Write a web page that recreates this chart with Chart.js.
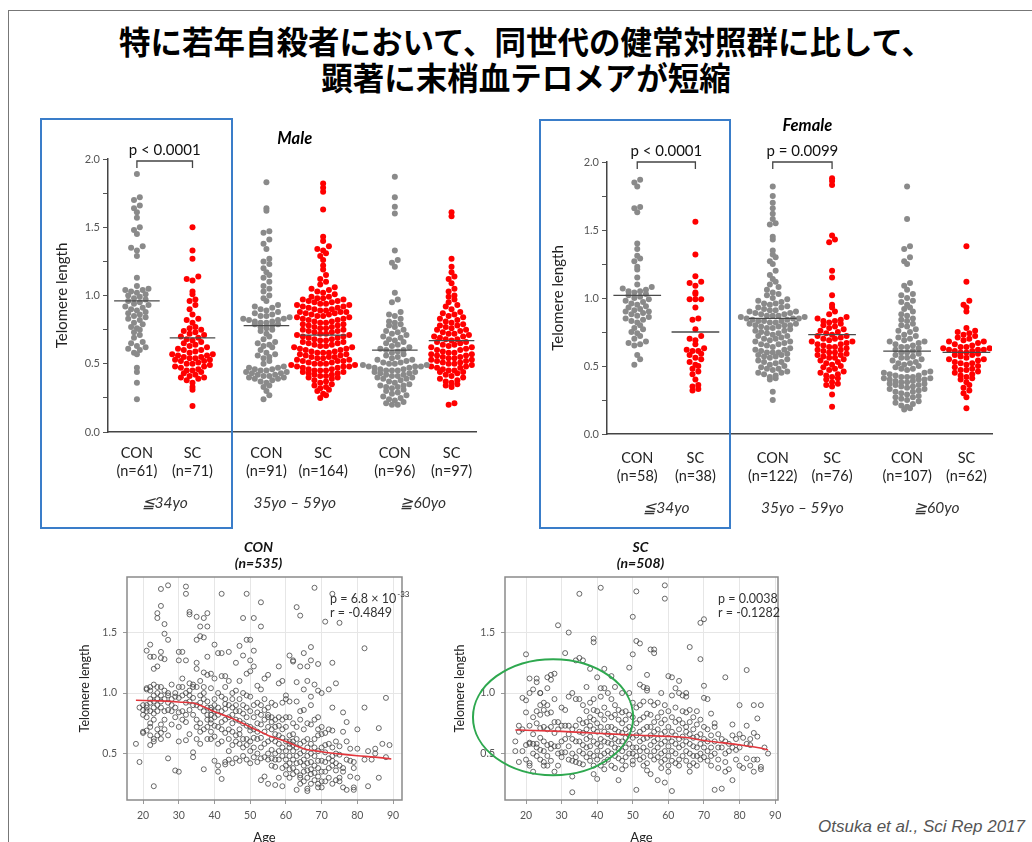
<!DOCTYPE html>
<html>
<head>
<meta charset="utf-8">
<title>Telomere length</title>
<script src="https://cdn.jsdelivr.net/npm/chart.js@4.4.1/dist/chart.umd.min.js"></script>
<style>
  html, body { margin: 0; padding: 0; background: #fff; }
  body { width: 1032px; height: 842px; overflow: hidden; position: relative; font-family: Lato, "Noto Sans", sans-serif; }
  .abs { position: absolute; }
  #frame { left: 8px; top: 10px; width: 1030px; height: 840px; border-top: 1px solid #777; border-left: 1px solid #777; }
  #title { left: 0; top: 22px; width: 1052px; text-align: center; font-family: "Noto Sans CJK JP", sans-serif; font-weight: 700; font-size: 31.5px; line-height: 36px; color: #000; }
  .box { border: 2px solid #3a7dc9; }
  #cite { right: 7px; top: 817px; font-family: "Liberation Sans", Arial, sans-serif; font-style: italic; font-size: 17px; color: #555; }
</style>
</head>
<body>
<div id="frame" class="abs"></div>
<div id="title" class="abs">特に若年自殺者において、同世代の健常対照群に比して、<br>顕著に末梢血テロメアが短縮</div>

<canvas id="male" class="abs" width="470" height="420" style="left:30px;top:110px"></canvas>
<canvas id="female" class="abs" width="480" height="420" style="left:530px;top:110px"></canvas>
<canvas id="conAge" class="abs" width="360" height="310" style="left:60px;top:535px"></canvas>
<canvas id="scAge" class="abs" width="360" height="310" style="left:430px;top:535px"></canvas>

<div class="abs box" style="left:40px;top:118px;width:189px;height:407px"></div>
<div class="abs box" style="left:539px;top:119px;width:188px;height:406px"></div>

<div id="cite" class="abs">Otsuka et al., Sci Rep 2017</div>

<script>
// ---- swarm plots: telomere length by sex / age group ----
const groupNames = ['CON', 'SC'];
const ageGroups = ['≦34yo', '35yo – 59yo', '≧60yo'];
const maleN = [61, 71, 91, 164, 96, 97];
const femaleN = [58, 38, 122, 76, 107, 62];
const maleMeans = [0.96, 0.69, 0.78, 0.71, 0.60, 0.67];
const femaleMeans = [1.02, 0.75, 0.85, 0.73, 0.61, 0.60];
const maleP = [['p < 0.0001', 0, 1]];
const femaleP = [['p < 0.0001', 0, 1], ['p = 0.0099', 2, 3]];

const maleCon34 = [1.89,1.72,1.70,1.66,1.64,1.61,1.57,1.50,1.48,1.45,1.36,1.35,1.33,1.29,1.13,1.07,1.05,1.04,1.04,1.03,1.02,1.01,1.00,0.99,0.98,0.97,0.96,0.95,0.94,0.93,0.92,0.91,0.90,0.89,0.88,0.87,0.86,0.85,0.84,0.83,0.82,0.80,0.79,0.77,0.76,0.75,0.73,0.71,0.69,0.66,0.65,0.63,0.62,0.61,0.60,0.58,0.57,0.47,0.44,0.36,0.24];
const maleSc34 = [1.50,1.33,1.27,1.14,1.12,1.11,1.03,1.01,0.97,0.96,0.93,0.90,0.86,0.83,0.82,0.80,0.77,0.76,0.75,0.74,0.73,0.72,0.71,0.70,0.69,0.68,0.67,0.66,0.65,0.64,0.63,0.62,0.61,0.60,0.60,0.59,0.58,0.57,0.57,0.56,0.56,0.55,0.55,0.54,0.54,0.53,0.53,0.52,0.52,0.51,0.50,0.50,0.49,0.48,0.48,0.47,0.46,0.45,0.45,0.44,0.43,0.42,0.41,0.40,0.40,0.39,0.38,0.36,0.33,0.31,0.19];
const maleCon3559 = [1.83,1.64,1.62,1.47,1.46,1.41,1.38,1.34,1.27,1.25,1.23,1.20,1.17,1.15,1.13,1.10,1.07,1.05,1.03,1.00,0.98,0.96,0.93,0.92,0.91,0.90,0.89,0.88,0.87,0.86,0.85,0.85,0.84,0.83,0.83,0.82,0.82,0.81,0.81,0.80,0.80,0.79,0.79,0.78,0.77,0.76,0.75,0.74,0.72,0.70,0.68,0.66,0.65,0.64,0.63,0.62,0.60,0.58,0.57,0.56,0.55,0.54,0.52,0.50,0.48,0.47,0.47,0.46,0.46,0.45,0.45,0.44,0.44,0.43,0.43,0.42,0.42,0.41,0.41,0.40,0.40,0.39,0.39,0.38,0.37,0.36,0.34,0.33,0.30,0.27,0.24];
const maleSc3559 = [1.82,1.79,1.76,1.63,1.43,1.40,1.36,1.34,1.33,1.31,1.29,1.26,1.22,1.19,1.15,1.12,1.10,1.08,1.06,1.05,1.04,1.03,1.02,1.01,
  0.99,0.99,0.98,0.98,0.97,0.97,0.96,0.96,0.95,0.95,0.94,0.94,0.93,0.93,0.92,0.92,0.91,0.91,0.90,0.90,0.89,0.89,0.88,0.88,0.88,0.87,0.87,
  0.86,0.86,0.85,0.85,0.84,0.84,0.83,0.83,0.82,0.82,0.81,0.81,0.80,0.80,0.79,0.79,0.78,0.78,0.77,0.77,0.76,0.76,0.75,0.75,0.74,0.74,
  0.73,0.73,0.72,0.72,0.71,0.71,0.70,0.70,0.69,0.69,0.68,0.68,0.67,0.67,0.66,0.66,0.65,0.65,0.64,0.64,0.63,0.63,0.62,0.62,0.61,0.61,
  0.60,0.60,0.59,0.59,0.58,0.58,0.58,0.57,0.57,0.56,0.56,0.55,0.55,0.55,0.54,0.54,0.53,0.53,0.52,0.52,0.52,0.51,0.51,0.50,0.50,0.50,
  0.49,0.49,0.48,0.48,0.48,0.47,0.47,0.46,0.46,0.45,0.45,0.45,0.44,0.44,0.43,0.43,0.42,0.42,0.41,0.41,0.40,0.40,
  0.39,0.38,0.37,0.36,0.35,0.34,0.33,0.32,0.31,0.30,0.28,0.27,0.25];
const maleCon60 = [1.87,1.72,1.65,1.60,1.33,1.26,1.24,1.21,1.02,0.97,0.95,0.88,0.86,0.85,0.83,0.81,0.80,0.79,0.78,0.77,0.75,0.74,0.73,0.72,0.71,0.70,0.69,0.68,0.67,0.66,0.65,0.64,0.63,0.62,0.61,0.60,0.60,0.59,0.58,0.57,0.56,0.55,0.54,0.53,0.53,0.52,0.51,0.51,0.50,0.50,0.49,0.49,0.48,0.48,0.48,0.47,0.47,0.46,0.46,0.45,0.45,0.45,0.44,0.44,0.43,0.43,0.42,0.42,0.41,0.41,0.40,0.40,0.39,0.39,0.38,0.37,0.36,0.35,0.34,0.34,0.33,0.33,0.32,0.31,0.30,0.29,0.28,0.27,0.26,0.25,0.24,0.23,0.22,0.21,0.20,0.20];
const maleSc60 = [1.61,1.58,1.27,1.21,1.17,1.14,1.12,1.09,1.05,1.03,1.00,0.99,0.97,0.95,0.93,0.92,0.90,0.88,0.87,0.86,0.85,0.84,0.83,0.82,0.81,0.80,0.79,0.78,0.78,0.77,0.76,0.75,0.75,0.74,0.73,0.72,0.72,0.71,0.70,0.70,0.69,0.68,0.68,0.67,0.66,0.66,0.65,0.64,0.64,0.63,0.62,0.62,0.61,0.60,0.60,0.59,0.58,0.58,0.57,0.57,0.56,0.56,0.55,0.55,0.54,0.54,0.53,0.53,0.52,0.52,0.51,0.51,0.50,0.50,0.49,0.48,0.48,0.47,0.47,0.46,0.45,0.45,0.44,0.44,0.43,0.42,0.41,0.40,0.39,0.38,0.37,0.36,0.35,0.34,0.33,0.21,0.20];

const femaleCon34 = [1.87,1.85,1.82,1.67,1.66,1.63,1.40,1.36,1.31,1.29,1.27,1.23,1.21,1.15,1.10,1.08,1.07,1.06,1.05,1.05,1.04,1.03,1.02,1.01,1.00,0.99,0.98,0.97,0.96,0.95,0.94,0.93,0.92,0.91,0.90,0.90,0.89,0.88,0.87,0.86,0.85,0.84,0.83,0.82,0.80,0.78,0.77,0.75,0.74,0.72,0.70,0.68,0.67,0.66,0.65,0.58,0.55,0.51];
const femaleSc34 = [1.56,1.32,1.16,1.12,1.11,1.09,1.04,1.03,0.99,0.99,0.99,0.93,0.85,0.84,0.77,0.72,0.70,0.69,0.66,0.63,0.62,0.61,0.61,0.59,0.58,0.56,0.55,0.53,0.51,0.50,0.48,0.46,0.44,0.40,0.36,0.35,0.33,0.32];
const femaleCon3559 = [1.82,1.75,1.70,1.66,1.62,1.58,1.55,1.54,1.45,1.43,1.35,1.32,1.30,1.27,1.25,1.20,1.17,1.14,1.12,1.10,1.08,1.06,1.04,1.03,1.02,1.00,0.99,0.98,0.97,0.96,0.96,0.95,0.94,0.93,0.93,0.92,0.91,0.91,0.90,0.90,0.89,0.89,0.88,0.88,0.87,0.87,0.87,0.86,0.86,0.85,0.85,0.85,0.84,0.84,0.83,0.83,0.83,0.82,0.82,0.81,0.81,0.80,0.80,0.80,0.79,0.79,0.78,0.78,0.77,0.76,0.76,0.75,0.74,0.74,0.73,0.72,0.72,0.71,0.70,0.70,0.69,0.68,0.68,0.67,0.66,0.66,0.65,0.64,0.63,0.62,0.62,0.61,0.60,0.60,0.60,0.59,0.58,0.58,0.57,0.57,0.56,0.55,0.54,0.53,0.53,0.52,0.51,0.50,0.49,0.48,0.48,0.47,0.46,0.45,0.45,0.44,0.43,0.42,0.41,0.40,0.31,0.25];
const femaleSc3559 = [1.88,1.86,1.83,1.46,1.43,1.41,1.20,1.15,1.02,0.95,0.93,0.90,0.88,0.86,0.85,0.84,0.83,0.83,0.82,0.81,0.80,0.79,0.78,0.77,0.76,0.75,0.74,0.73,0.72,0.72,0.71,0.70,0.70,0.69,0.68,0.68,0.67,0.66,0.66,0.65,0.64,0.64,0.63,0.62,0.62,0.61,0.60,0.60,0.59,0.58,0.58,0.57,0.56,0.56,0.55,0.54,0.53,0.52,0.51,0.50,0.49,0.48,0.47,0.46,0.45,0.44,0.43,0.42,0.41,0.40,0.38,0.37,0.36,0.35,0.29,0.20];
const femaleCon60 = [1.82,1.58,1.38,1.36,1.30,1.27,1.25,1.11,1.09,1.06,1.03,1.02,1.00,0.98,0.97,0.95,0.93,0.92,0.90,0.88,0.87,0.85,0.84,0.83,0.81,0.80,0.79,0.77,0.76,0.75,0.73,0.72,0.71,0.70,0.69,0.68,0.68,0.67,0.66,0.65,0.64,0.64,0.63,0.62,0.61,0.60,0.60,0.59,0.58,0.57,0.56,0.56,0.55,0.54,0.53,0.52,0.52,0.51,0.50,0.49,0.48,0.48,0.47,0.46,0.45,0.45,0.44,0.43,0.43,0.42,0.42,0.42,0.41,0.41,0.40,0.40,0.40,0.39,0.39,0.38,0.38,0.37,0.37,0.36,0.36,0.35,0.34,0.33,0.33,0.32,0.31,0.30,0.29,0.28,0.27,0.27,0.26,0.25,0.24,0.23,0.22,0.21,0.20,0.19,0.18,0.35,0.31];
const femaleSc60 = [1.38,1.12,0.98,0.95,0.93,0.90,0.78,0.76,0.75,0.74,0.73,0.72,0.71,0.70,0.69,0.68,0.68,0.67,0.66,0.65,0.64,0.64,0.63,0.63,0.62,0.62,0.62,0.61,0.61,0.60,0.60,0.59,0.58,0.58,0.57,0.56,0.55,0.55,0.54,0.53,0.52,0.52,0.51,0.50,0.49,0.48,0.47,0.47,0.46,0.45,0.44,0.43,0.42,0.41,0.40,0.38,0.36,0.34,0.32,0.30,0.27,0.19];

// ---- age scatter plots: [age, telomere lengths at that age] ----
const conRows = [
  [18,[0.58]],[19,[0.43,0.88]],[20,[0.68,0.82,0.86,0.90,0.67]],
  [21,[1.03,1.04,0.90,0.80,0.69,0.88,1.35,0.85]],
  [22,[1.40,1.30,1.02,0.95,0.75,0.65,0.57,0.92,1.05,0.85,0.72]],
  [23,[1.20,1.30,0.98,0.93,0.88,0.78,0.62,0.23,1.07,0.83,0.60]],
  [24,[1.66,1.62,1.22,1.00,0.95,0.90,0.85,0.70,0.65,1.05]],
  [25,[1.86,1.72,1.34,1.29,1.05,0.93,0.88,0.74,0.67,0.62,0.98]],
  [26,[1.57,1.49,1.28,1.02,0.95,0.85,0.78,0.70]],
  [27,[1.89,1.44,0.98,0.92,0.86,0.65,0.46,1.00]],
  [28,[1.07,0.95,0.85,0.74,0.90]],[29,[1.00,0.88,0.80,0.97,0.36]],
  [30,[1.34,1.27,1.05,0.96,0.84,0.72,0.60,0.35]],
  [31,[1.34,1.12,0.98,0.85,0.78,1.05]],
  [32,[1.88,1.82,1.27,1.00,0.92,0.82,0.76,0.61]],
  [33,[1.67,1.65,1.08,0.98,0.93,0.86,0.66,1.02]],
  [34,[1.07,0.96,0.90,0.82,0.51,0.47,1.05]],
  [35,[1.63,1.44,1.25,1.20,1.05,0.90,0.78,0.62,0.72]],
  [36,[1.55,1.47,1.10,0.98,0.88,0.75,0.58,0.68,0.92]],
  [37,[1.62,1.46,1.17,1.05,0.95,0.85,0.70,0.37,1.00]],
  [38,[1.66,1.55,1.30,1.15,0.93,0.82,0.72,0.62,0.88,0.78]],
  [39,[1.16,1.04,0.88,0.82,0.78,0.75,0.68,0.62,0.86]],
  [40,[1.40,1.12,0.95,0.85,0.80,0.73,0.64,0.44,0.90]],
  [41,[1.33,1.00,0.88,0.72,0.58,0.40,0.35,0.82]],
  [42,[1.82,1.33,1.14,0.97,0.85,0.70,0.60,0.29,0.76]],
  [43,[1.14,1.05,0.95,0.87,0.78,0.67,0.43,0.41,0.91]],
  [44,[1.34,1.10,0.90,0.80,0.70,0.52,0.45,0.62]],
  [45,[1.00,0.88,0.82,0.75,0.68,0.57,0.42,0.95]],
  [46,[1.25,1.02,0.90,0.78,0.65,0.60,0.46,0.85]],
  [47,[1.39,1.10,0.95,0.85,0.77,0.70,0.58,0.44,0.66]],
  [48,[1.62,1.31,1.00,0.90,0.83,0.75,0.62,0.48,0.55]],
  [49,[1.82,1.44,1.16,0.98,0.88,0.80,0.73,0.62,0.57,0.45]],
  [50,[1.44,1.27,1.18,0.97,0.85,0.72,0.60,0.52,0.42,0.69]],
  [51,[1.62,1.35,1.22,0.90,0.80,0.70,0.55,0.47,0.63]],
  [52,[1.06,0.92,0.84,0.75,0.62,0.50,0.43,0.68]],
  [53,[1.75,1.55,1.03,0.90,0.82,0.74,0.63,0.55,0.46,0.28]],
  [54,[1.12,0.95,0.78,0.68,0.58,0.47,0.31,0.86]],
  [55,[1.15,0.88,0.82,0.80,0.72,0.60,0.50,0.45,0.25]],
  [56,[0.92,0.80,0.70,0.62,0.53,0.46,0.40,0.76]],
  [57,[0.90,0.78,0.72,0.60,0.50,0.45,0.39,0.24,0.66]],
  [58,[1.22,1.08,0.80,0.73,0.65,0.58,0.52,0.45,0.30]],
  [59,[1.10,0.92,0.78,0.70,0.55,0.48,0.38,0.23,0.63]],
  [60,[0.98,0.80,0.72,0.60,0.52,0.45,0.40,0.33,0.95]],
  [61,[1.31,0.93,0.80,0.65,0.58,0.55,0.48,0.42,0.37,0.30,0.60]],
  [62,[1.26,1.27,0.75,0.66,0.60,0.52,0.45,0.38,0.33,0.57]],
  [63,[1.71,1.09,0.93,0.72,0.62,0.55,0.48,0.42,0.35,0.20]],
  [64,[1.64,1.22,0.85,0.78,0.58,0.50,0.43,0.32,0.30,0.25]],
  [65,[1.33,1.03,0.86,0.70,0.60,0.52,0.45,0.40,0.35,0.27]],
  [66,[1.22,1.10,0.75,0.62,0.55,0.48,0.42,0.36,0.30,0.19,0.21]],
  [67,[1.38,1.27,0.97,0.90,0.74,0.58,0.50,0.43,0.37,0.25,0.33]],
  [68,[1.87,1.07,0.78,0.62,0.55,0.48,0.40,0.34,0.28]],
  [69,[1.24,1.02,0.80,0.70,0.65,0.52,0.44,0.38,0.31,0.25,0.22]],
  [70,[1.00,0.72,0.66,0.55,0.44,0.35,0.27,0.22]],
  [71,[1.59,0.67,0.57,0.51,0.43,0.35,0.27]],
  [72,[1.03,0.70,0.58,0.46,0.38,0.30]],
  [73,[1.82,1.25,0.88,0.69,0.55,0.48,0.44,0.40,0.25]],
  [74,[1.08,0.60,0.50,0.42,0.36,0.28]],
  [75,[1.58,0.56,0.49,0.40,0.30,0.27]],
  [76,[0.84,0.68,0.38,0.35,0.22]],[77,[0.76,0.60,0.45,0.20]],
  [78,[0.54,0.44,0.31]],[79,[0.43,0.38,0.22,0.20]],[80,[0.70,0.54,0.30]],
  [82,[1.37,0.88,0.45]],[83,[0.52,0.23]],[84,[0.45]],[85,[0.54,0.50]],
  [86,[0.71,0.30]],[87,[0.58]],[88,[0.96,0.47]],[89,[0.57]]
];
const scRows = [
  [17,[0.60,0.52]],[18,[0.73,0.68,0.43]],[19,[0.96,0.70,0.52]],
  [20,[1.32,0.94,0.84,0.57,0.45]],
  [21,[1.12,1.00,0.73,0.59,0.58,0.42,0.40]],
  [22,[1.03,0.80,0.66,0.58,0.50,0.35]],
  [23,[1.12,1.09,0.85,0.75,0.58,0.55,0.48]],
  [24,[1.00,1.00,0.90,0.82,0.71,0.63,0.53,0.45]],
  [25,[0.92,0.86,0.72,0.60,0.52,0.43,0.40]],
  [26,[1.13,1.04,0.90,0.83,0.70,0.57,0.48,0.40]],
  [27,[1.15,1.11,0.84,0.72,0.58,0.54,0.44]],
  [28,[1.16,0.95,0.76,0.67,0.56,0.35]],
  [29,[1.56,0.76,0.70,0.56,0.50,0.40]],
  [30,[0.88,0.73,0.60,0.51,0.47]],
  [31,[1.33,0.86,0.73,0.62,0.51]],
  [32,[1.50,0.97,0.73,0.66,0.56,0.45]],
  [33,[1.00,0.70,0.62,0.50,0.44,0.31,0.18]],
  [34,[1.27,0.95,0.73,0.60,0.47,0.43]],
  [35,[1.82,1.29,0.95,0.78,0.68,0.60,0.52,0.42]],
  [36,[1.27,0.90,0.75,0.67,0.57,0.50,0.41]],
  [37,[1.05,0.85,0.76,0.70,0.62,0.55,0.47]],
  [38,[1.20,0.92,0.80,0.73,0.64,0.56,0.50,0.44]],
  [39,[1.45,1.42,0.95,0.86,0.78,0.70,0.60,0.48,0.40,0.33]],
  [40,[1.13,0.85,0.75,0.68,0.58,0.52,0.45,0.29]],
  [41,[1.87,1.04,0.97,0.82,0.72,0.62,0.56,0.48,0.40]],
  [42,[1.20,1.04,0.88,0.78,0.68,0.60,0.50,0.43,0.37]],
  [43,[1.00,0.83,0.72,0.66,0.59,0.52,0.45]],
  [44,[1.14,0.95,0.80,0.72,0.64,0.58,0.50,0.40]],
  [45,[1.05,0.90,0.82,0.70,0.62,0.55,0.48,0.38]],
  [46,[0.86,0.78,0.68,0.60,0.54,0.46,0.28]],
  [47,[1.00,0.84,0.75,0.67,0.60,0.52,0.44,0.37]],
  [48,[0.85,0.78,0.70,0.63,0.55,0.47,0.40]],
  [49,[1.21,1.00,0.82,0.72,0.65,0.58,0.50]],
  [50,[1.63,1.32,0.92,0.80,0.70,0.63,0.55,0.50,0.44,0.41]],
  [51,[1.84,1.43,0.88,0.75,0.65,0.55,0.48,0.20]],
  [52,[1.41,1.07,0.90,0.78,0.68,0.60,0.52,0.45]],
  [53,[1.05,0.93,0.80,0.70,0.62,0.55,0.47,0.40]],
  [54,[1.15,1.04,1.02,0.83,0.72,0.63,0.52,0.42,0.36]],
  [55,[1.36,0.93,0.82,0.72,0.65,0.57,0.48,0.33]],
  [56,[1.36,1.33,0.90,0.76,0.68,0.60,0.52,0.45]],
  [57,[0.92,0.80,0.70,0.62,0.55,0.47,0.28]],
  [58,[1.00,0.84,0.75,0.66,0.58,0.50,0.43,0.38]],
  [59,[1.89,1.78,0.90,0.78,0.68,0.60,0.52,0.45,0.26]],
  [60,[1.14,0.85,0.72,0.63,0.56,0.48,0.40,0.35]],
  [61,[1.13,0.98,0.80,0.68,0.60,0.52,0.44,0.19]],
  [62,[1.04,0.88,0.76,0.65,0.58,0.50,0.42]],
  [63,[1.10,1.00,0.78,0.70,0.62,0.55,0.45,0.40]],
  [64,[0.98,0.85,0.75,0.64,0.57,0.48]],
  [65,[1.00,0.97,0.84,0.72,0.68,0.60,0.52,0.44]],
  [66,[1.38,0.86,0.76,0.66,0.58,0.50,0.40,0.35]],
  [67,[0.80,0.70,0.63,0.56,0.48,0.42]],
  [68,[0.85,0.74,0.64,0.55,0.48,0.40]],
  [69,[1.58,1.28,0.78,0.66,0.58,0.50,0.45]],
  [70,[1.61,1.06,0.96,0.72,0.62,0.55,0.47]],
  [71,[0.95,0.70,0.60,0.52,0.44]],[72,[0.83,0.65,0.55,0.48,0.40]],
  [73,[0.75,0.72,0.60,0.50,0.20]],[74,[0.66,0.55,0.45,0.38]],
  [75,[0.62,0.55,0.21]],[76,[1.13,0.60,0.50,0.43,0.35]],
  [77,[0.58,0.52,0.37]],[78,[0.74,0.65,0.55,0.28]],[79,[0.62,0.53,0.45]],
  [80,[0.90,0.66,0.55,0.40]],[81,[0.63,0.38]],[82,[1.19,0.73,0.58,0.46]],
  [83,[0.62,0.57,0.40]],[84,[0.90,0.67,0.45,0.35]],[85,[0.79,0.64,0.45]],
  [86,[0.90,0.39,0.37]],[87,[0.55]],[88,[0.50]]
];
const conLoess = [[18,0.94],[25,0.935],[30,0.926],[35,0.91],[40,0.845],[45,0.79],[50,0.72],[55,0.65],[60,0.60],[65,0.54],[70,0.515],[75,0.497],[80,0.482],[85,0.47],[89.5,0.455]];
const scLoess = [[17,0.695],[20,0.693],[30,0.683],[40,0.668],[50,0.653],[60,0.642],[65,0.632],[70,0.608],[75,0.59],[80,0.572],[85,0.55],[88,0.53]];
const conStats = ['p = 6.8 × 10', '-33', 'r = -0.4849'];
const scStats = ['p = 0.0038', '', 'r = -0.1282'];
const ageTicks = [20, 30, 40, 50, 60, 70, 80, 90];
const tlTicks = [0.5, 1.0, 1.5];

// ---- layout / style ----
const FONT = 'Lato, "Open Sans", sans-serif';
const GRAY = '#8a8a8a', RED = '#ff0000';
const DOT_R = 3;
const groupX = [0, 1, 2.33, 3.35, 4.64, 5.66];

const swarmExtras = {
  id: 'swarmExtras',
  afterDraw(chart, args, o) {
    const {ctx, chartArea: a, scales: {x}} = chart;
    const px = i => x.getPixelForValue(groupX[i]);
    ctx.save();
    ctx.textAlign = 'center';
    ctx.textBaseline = 'middle';
    ctx.fillStyle = '#000';
    ctx.font = 'italic bold 16.5px ' + FONT;
    ctx.fillText(o.title, (px(2) + px(3)) / 2 + o.titleDx, a.top + o.titleDy);
    ctx.strokeStyle = '#444';
    ctx.lineWidth = 1.3;
    o.brackets.forEach(([txt, i, j]) => {
      const yb = a.top + o.bracketDy;
      ctx.beginPath();
      ctx.moveTo(px(i), yb + 7); ctx.lineTo(px(i), yb); ctx.lineTo(px(j), yb); ctx.lineTo(px(j), yb + 7);
      ctx.stroke();
      ctx.font = '15px ' + FONT;
      ctx.fillStyle = '#111';
      ctx.fillText(txt, (px(i) + px(j)) / 2, yb - 11);
    });
    ctx.font = 'italic 15.5px ' + FONT;
    ctx.fillStyle = '#333';
    ageGroups.forEach((t, k) => ctx.fillText(t, (px(2 * k) + px(2 * k + 1)) / 2, a.bottom + o.ageDy));
    ctx.restore();
  }
};

// Prism-like scatter dot plot: bin dots into rows, spread each row from the centre out
function swarmOffsets(vals, ys) {
  const W = 5.8, H = 6;
  const pts = vals.map(v => ({v, y: ys.getPixelForValue(v), x: 0}));
  const bins = {};
  pts.forEach(p => { const k = Math.round(p.y / H); (bins[k] = bins[k] || []).push(p); });
  Object.values(bins).forEach(b => {
    b.sort((a, c) => a.v - c.v);
    const slots = b.map((_, i) => (i - (b.length - 1) / 2) * W);
    slots.sort((a, c) => Math.abs(a) - Math.abs(c) || a - c);
    b.forEach((p, i) => { p.x = slots[i]; });
  });
  return pts;
}

function swarmChart(id, groups, means, ns, brackets, g) {
  const datasets = [];
  means.forEach((m, i) => datasets.push({
    type: 'line', data: [{x: groupX[i] - 0.41, y: m}, {x: groupX[i] + 0.41, y: m}],
    borderColor: '#4a4a4a', borderWidth: 1.3, pointRadius: 0, order: -1
  }));
  groups.forEach((vals, i) => datasets.push({
    data: vals.map(v => ({x: groupX[i], y: v})),
    backgroundColor: i % 2 ? RED : GRAY, borderWidth: 0, pointRadius: DOT_R, order: 0
  }));
  const chart = new Chart(document.getElementById(id), {
    type: 'scatter',
    data: {datasets},
    options: {
      responsive: false, animation: false, events: [],
      layout: {padding: {left: 0, right: g.padR, top: g.padT, bottom: 0}},
      plugins: {
        legend: {display: false}, tooltip: {enabled: false},
        swarmExtras: {title: g.title, titleDx: g.titleDx, titleDy: g.titleDy, bracketDy: g.bracketDy, ageDy: g.ageDy, brackets}
      },
      scales: {
        x: {
          type: 'linear', min: -0.52, max: 6.1,
          afterBuildTicks: s => { s.ticks = groupX.map(v => ({value: v})); },
          afterFit: s => { s.height = g.xH; },
          grid: {display: true, drawOnChartArea: false, drawTicks: false},
          border: {color: '#444', width: 1.5},
          ticks: {
            autoSkip: false, maxRotation: 0, padding: g.xPad, color: '#222',
            font: {family: FONT, size: 14.5, lineHeight: 1.3},
            callback: (v, i) => [groupNames[i % 2], '(n=' + ns[i] + ')']
          }
        },
        y: {
          min: 0, max: 2,
          afterFit: s => { s.width = g.yW; },
          grid: {drawOnChartArea: false, drawTicks: true, tickLength: 5, color: '#555'},
          border: {color: '#444', width: 1.5},
          ticks: {
            stepSize: 0.25, padding: 3, color: '#555', font: {family: FONT, size: 11},
            callback: v => (Math.abs(v * 2 - Math.round(v * 2)) < 1e-6 ? v.toFixed(1) : '')
          },
          title: {display: true, text: 'Telomere length', color: '#222', font: {family: FONT, size: 15}, padding: {top: g.yTitlePad, bottom: 0}}
        }
      }
    },
    plugins: [swarmExtras]
  });
  const xs = chart.scales.x, ys = chart.scales.y;
  const pxPerUnit = xs.getPixelForValue(1) - xs.getPixelForValue(0);
  groups.forEach((vals, i) => {
    chart.data.datasets[means.length + i].data =
      swarmOffsets(vals, ys).map(p => ({x: groupX[i] + p.x / pxPerUnit, y: p.v}));
  });
  chart.update('none');
}

const scatterExtras = {
  id: 'scatterExtras',
  beforeDatasetsDraw(chart) {
    const {ctx, chartArea: a} = chart;
    ctx.save();
    ctx.strokeStyle = '#8a8a8a';
    ctx.lineWidth = 1.5;
    ctx.strokeRect(a.left, a.top, a.width, a.height);
    ctx.restore();
  },
  afterDraw(chart, args, o) {
    const {ctx, chartArea: a, scales: {x, y}} = chart;
    ctx.save();
    ctx.textAlign = 'center';
    ctx.textBaseline = 'middle';
    ctx.fillStyle = '#111';
    ctx.font = 'italic bold 14px ' + FONT;
    const cx = (a.left + a.right) / 2 + o.titleDx;
    ctx.fillText(o.title[0], cx, a.top - 30);
    ctx.fillText(o.title[1], cx, a.top - 14);
    ctx.textAlign = 'left';
    ctx.fillStyle = '#333';
    ctx.font = '12.5px ' + FONT;
    const sx = a.right - o.statsInset;
    ctx.fillText(o.stats[0], sx, a.top + 22);
    if (o.stats[1]) {
      const w = ctx.measureText(o.stats[0]).width;
      ctx.font = '8px ' + FONT;
      ctx.fillText(o.stats[1], sx + w + 1, a.top + 17);
      ctx.font = '12.5px ' + FONT;
    }
    ctx.fillText(o.stats[2], sx, a.top + 36);
    if (o.ellipse) {
      const [ex, ey, rx, ry] = o.ellipse;
      const px = x.getPixelForValue(ex), py = y.getPixelForValue(ey);
      ctx.strokeStyle = '#2ea84f';
      ctx.lineWidth = 2;
      ctx.beginPath();
      ctx.ellipse(px, py, x.getPixelForValue(ex + rx) - px, py - y.getPixelForValue(ey + ry), 0, 0, Math.PI * 2);
      ctx.stroke();
    }
    ctx.restore();
  }
};

function ageChart(id, rows, loess, stats, g) {
  const pts = [];
  rows.forEach(([age, vals]) => vals.forEach(v => pts.push({x: age, y: v})));
  new Chart(document.getElementById(id), {
    type: 'scatter',
    data: {datasets: [
      {type: 'line', data: loess.map(([x, y]) => ({x, y})), borderColor: '#e2363c', borderWidth: 1.6,
       pointRadius: 0, cubicInterpolationMode: 'monotone', order: -1},
      {data: pts, pointRadius: 2.5, borderWidth: 0.9, borderColor: 'rgba(70,70,70,0.9)', backgroundColor: 'rgba(0,0,0,0)'}
    ]},
    options: {
      responsive: false, animation: false, events: [],
      layout: {padding: {left: 0, right: g.padR, top: 42, bottom: 0}},
      plugins: {
        legend: {display: false}, tooltip: {enabled: false},
        scatterExtras: {title: g.title, titleDx: g.titleDx, stats, statsInset: g.statsInset, ellipse: g.ellipse}
      },
      scales: {
        x: {
          min: g.xMin, max: g.xMax,
          afterBuildTicks: s => { s.ticks = ageTicks.map(v => ({value: v})); },
          afterFit: s => { s.height = 45; },
          grid: {color: '#e6e6e6', tickColor: '#999', tickLength: 4},
          border: {display: false},
          ticks: {padding: 5, color: '#555', font: {family: FONT, size: 10.5}},
          title: {display: true, text: 'Age', color: '#222', font: {family: FONT, size: 13}, padding: {top: 0, bottom: -1}}
        },
        y: {
          min: 0.116, max: 1.959,
          afterBuildTicks: s => { s.ticks = tlTicks.map(v => ({value: v})); },
          afterFit: s => { s.width = g.yW; },
          grid: {color: '#e6e6e6', tickColor: '#999', tickLength: 4},
          border: {display: false},
          ticks: {padding: 6, color: '#555', font: {family: FONT, size: 10.5}, callback: v => v.toFixed(1)},
          title: {display: true, text: 'Telomere length', color: '#222', font: {family: FONT, size: 12.5}, padding: {top: g.yTitlePad, bottom: 0}}
        }
      }
    },
    plugins: [scatterExtras]
  });
}

swarmChart('male',
  [maleCon34, maleSc34, maleCon3559, maleSc3559, maleCon60, maleSc60], maleMeans, maleN, maleP,
  {title: 'Male', titleDx: 0, titleDy: -20, bracketDy: 2, ageDy: 71, padR: 24, padT: 49, xH: 98, xPad: 11.5, yW: 78, yTitlePad: 23});
swarmChart('female',
  [femaleCon34, femaleSc34, femaleCon3559, femaleSc3559, femaleCon60, femaleSc60], femaleMeans, femaleN, femaleP,
  {title: 'Female', titleDx: 5, titleDy: -36, bracketDy: 0, ageDy: 74, padR: 18, padT: 52, xH: 96, xPad: 14.5, yW: 77, yTitlePad: 19});

ageChart('conAge', conRows, conLoess, conStats,
  {title: ['CON', '(n=535)'], titleDx: -6, statsInset: 72, xMin: 15.5, xMax: 92.5, padR: 18, yW: 67, yTitlePad: 17.5});
ageChart('scAge', scRows, scLoess, scStats,
  {title: ['SC', '(n=508)'], titleDx: -1, statsInset: 60, xMin: 14.1, xMax: 90.8, padR: 12, yW: 75, yTitlePad: 22.5,
   ellipse: [27.6, 0.80, 22.5, 0.48]});
</script>
</body>
</html>
